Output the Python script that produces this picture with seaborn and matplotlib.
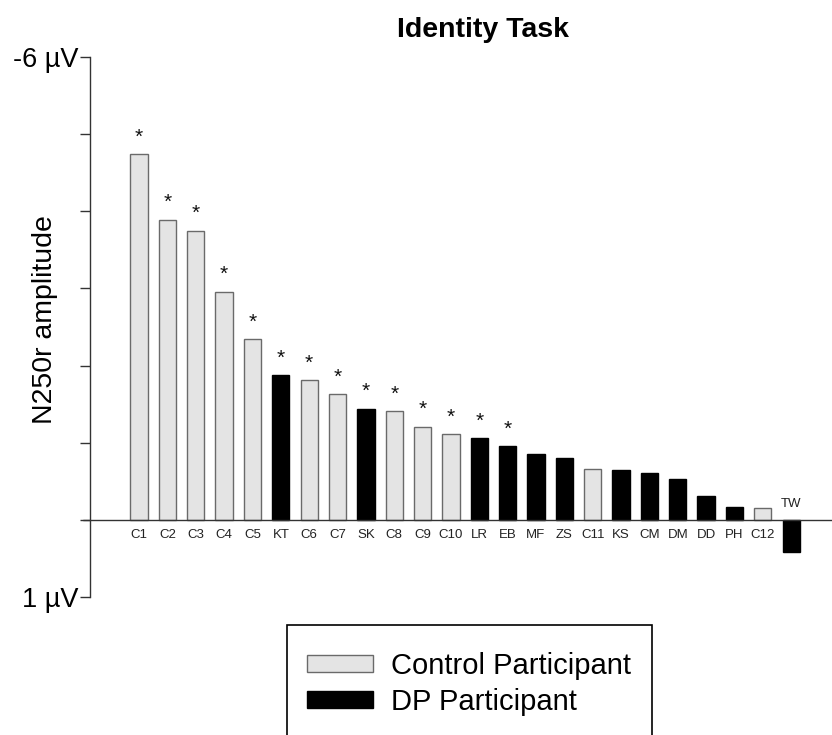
import matplotlib
matplotlib.use("Agg")
import matplotlib.pyplot as plt
import matplotlib.patches as mpatches
import seaborn as sns
import pandas as pd

labels = ["C1", "C2", "C3", "C4", "C5", "KT", "C6", "C7", "SK", "C8", "C9", "C10",
          "LR", "EB", "MF", "ZS", "C11", "KS", "CM", "DM", "DD", "PH", "C12", "TW"]
values = [-4.74, -3.89, -3.75, -2.96, -2.34, -1.88, -1.81, -1.63, -1.44, -1.41, -1.21, -1.11,
          -1.06, -0.96, -0.85, -0.80, -0.66, -0.64, -0.61, -0.53, -0.31, -0.165, -0.15, 0.42]
groups = ["Control", "Control", "Control", "Control", "Control", "DP", "Control", "Control",
          "DP", "Control", "Control", "Control", "DP", "DP", "DP", "DP", "Control", "DP",
          "DP", "DP", "DP", "DP", "Control", "DP"]
significant = [True] * 14 + [False] * 10
y_ticks = [-6, -5, -4, -3, -2, -1, 0, 1]

df = pd.DataFrame({"label": labels, "value": values, "group": groups})

sns.set_style("white")
plt.rcParams["font.family"] = ["Liberation Sans", "DejaVu Sans"]
plt.rcParams["text.color"] = "black"
plt.rcParams["axes.labelcolor"] = "black"
plt.rcParams["ytick.color"] = "black"

fig = plt.figure(figsize=(8.32, 7.35), dpi=100)
ax = fig.add_axes([90 / 832, 1 - 597 / 735, 1 - 90 / 832, 540 / 735])

fill = {"Control": "#e4e4e4", "DP": "#000000"}
edge = {"Control": "#6a6a6a", "DP": "#000000"}

sns.barplot(data=df, x="label", y="value", hue="group", order=labels,
            palette=fill, dodge=False, width=0.61, legend=False, ax=ax,
            linewidth=1.0, saturation=1)

for patch in ax.patches:
    fc = patch.get_facecolor()
    if fc[0] > 0.5:
        patch.set_edgecolor(edge["Control"])
    else:
        patch.set_edgecolor(edge["DP"])

ax.set_ylim(1, -6)
ax.set_xlim(-1.73, 24.44)

# zero line
ax.plot([-0.01, 1], [0, 0], transform=ax.get_yaxis_transform(), color="#333333",
        lw=1.0, clip_on=False, zorder=3)

# labels and asterisks
for i, (lab, v, sig) in enumerate(zip(labels, values, significant)):
    if v < 0:
        ax.text(i, 0.19, lab, ha="center", va="center", fontsize=9.5, color="#222222")
    else:
        ax.text(i, -0.21, lab, ha="center", va="center", fontsize=9.5, color="#222222")
    if sig:
        ax.text(i, v - 0.22, "*", ha="center", va="center", fontsize=15, color="#111111")

ax.set_xticks([])
ax.set_xlabel("")
ax.set_yticks(y_ticks)
ax.set_yticklabels(["-6 µV", "", "", "", "", "", "", "1 µV"], fontsize=19.5)
ax.tick_params(axis="y", which="both", direction="out", length=7, width=1.0,
               color="#333333", left=True, pad=1)
ax.set_ylabel("N250r amplitude", fontsize=20.5)
ax.yaxis.set_label_coords(-0.043, 0.513)

for s in ["top", "right", "bottom"]:
    ax.spines[s].set_visible(False)
ax.spines["left"].set_color("#333333")
ax.spines["left"].set_linewidth(1.0)

fig.text(483 / 832, 1 - 30 / 735, "Identity Task", ha="center", va="center",
         fontsize=20.5, fontweight="bold")

# legend box (cut off at figure bottom)
rect = mpatches.Rectangle((287 / 832, -0.05), (652 - 287) / 832, 0.05 + (735 - 625) / 735,
                          transform=fig.transFigure, fill=False, edgecolor="#000000",
                          lw=1.2, clip_on=False)
fig.patches.append(rect)

handles = [mpatches.Patch(facecolor=fill["Control"], edgecolor=edge["Control"], lw=1.0,
                          label="Control Participant"),
           mpatches.Patch(facecolor=fill["DP"], edgecolor=edge["DP"], lw=1.0,
                          label="DP Participant")]
fig.legend(handles=handles, loc="upper left", bbox_to_anchor=(307 / 832, 1 - 652 / 735),
           frameon=False, fontsize=21, handlelength=2.25, handleheight=0.52,
           labelspacing=0.28, handletextpad=0.62, borderpad=0, borderaxespad=0)

fig.savefig("out.png", dpi=100)
